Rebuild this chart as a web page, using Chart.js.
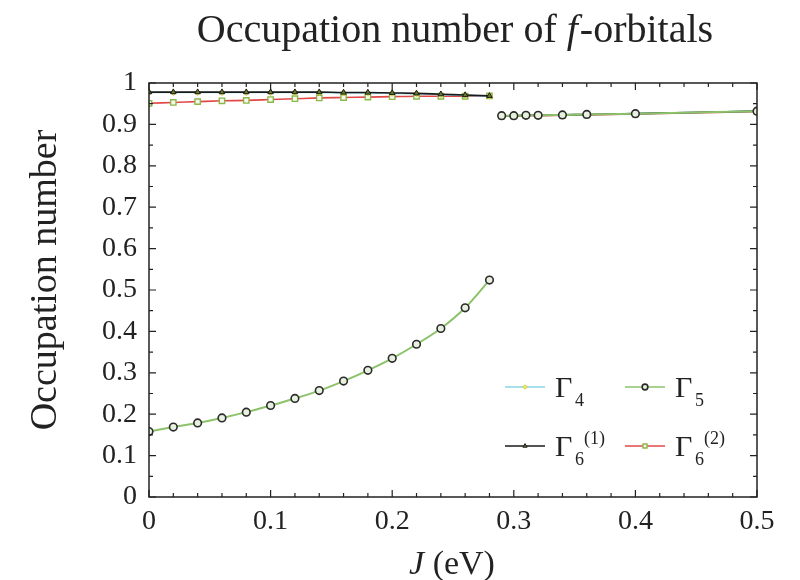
<!DOCTYPE html>
<html>
<head>
<meta charset="utf-8">
<script src="https://cdn.jsdelivr.net/npm/chart.js@4.4.1/dist/chart.umd.min.js"></script>
<style>
    html, body { margin: 0; padding: 0; background: #fff; }
    #wrap { width: 800px; height: 580px; }
</style>
</head>
<body>
<div id="wrap"><canvas id="occChart" width="800" height="580"></canvas></div>
<script>
// Occupation numbers of the f-orbitals versus Hund coupling J

// J values (eV); the null gap at 0.285 splits the low-J and high-J branches
const jValues = [0, 0.02, 0.04, 0.06, 0.08, 0.10, 0.12, 0.14, 0.16, 0.18, 0.20, 0.22, 0.24, 0.26, 0.28,
                 0.285, 0.29, 0.30, 0.31, 0.32, 0.34, 0.36, 0.40, 0.50];

const gamma4 = [0.977, 0.977, 0.977, 0.977, 0.977, 0.977, 0.977, 0.977, 0.976, 0.976, 0.975, 0.974, 0.972, 0.970, 0.968,
                null, 0.921, 0.921, 0.922, 0.922, 0.923, 0.924, 0.926, 0.932];
const gamma5 = [0.158, 0.169, 0.179, 0.191, 0.205, 0.221, 0.238, 0.257, 0.280, 0.306, 0.335, 0.369, 0.407, 0.457, 0.524,
                null, 0.921, 0.921, 0.922, 0.922, 0.923, 0.924, 0.926, 0.932];
const gamma6a = [0.978, 0.978, 0.978, 0.978, 0.978, 0.978, 0.978, 0.978, 0.977, 0.977, 0.976, 0.975, 0.973, 0.971, 0.969,
                 null, 0.921, 0.921, 0.922, 0.922, 0.923, 0.924, 0.926, 0.932];
const gamma6b = [0.951, 0.953, 0.955, 0.957, 0.958, 0.960, 0.962, 0.964, 0.965, 0.966, 0.967, 0.968, 0.968, 0.968, 0.969,
                 null, 0.920, 0.920, 0.921, 0.921, 0.922, 0.923, 0.925, 0.931];

const xTicks = [0, 0.1, 0.2, 0.3, 0.4, 0.5];
const yTicks = [0, 0.1, 0.2, 0.3, 0.4, 0.5, 0.6, 0.7, 0.8, 0.9, 1];

const SERIF = '"Liberation Serif", "DejaVu Serif", serif';

function toPoints(values) {
    return jValues.map((x, i) => ({ x: x, y: values[i] }));
}

// legend entries: subscript, superscript, dataset index, grid cell
const legendItems = [
    { sub: '4', sup: '', ds: 2, col: 0, row: 0 },
    { sub: '5', sup: '', ds: 0, col: 1, row: 0 },
    { sub: '6', sup: '(1)', ds: 1, col: 0, row: 1 },
    { sub: '6', sup: '(2)', ds: 3, col: 1, row: 1 }
];

// draw a run of text pieces, each with its own font, starting at x
function drawRuns(ctx, runs, x, y) {
    runs.forEach(r => {
        ctx.font = r.font;
        ctx.fillText(r.text, x, y);
        x += ctx.measureText(r.text).width + (r.gap || 0);
    });
}

function runsWidth(ctx, runs) {
    return runs.reduce((w, r) => {
        ctx.font = r.font;
        return w + ctx.measureText(r.text).width + (r.gap || 0);
    }, 0);
}

// frame, inward ticks on all four sides, titles and legend
const framePlugin = {
    id: 'frame',
    afterDraw(chart) {
        const ctx = chart.ctx;
        const a = chart.chartArea;
        const xs = chart.scales.x;
        const ys = chart.scales.y;
        ctx.save();
        ctx.strokeStyle = '#222';
        ctx.lineWidth = 1.5;
        ctx.strokeRect(a.left, a.top, a.right - a.left, a.bottom - a.top);

        ctx.lineWidth = 1.2;
        ctx.beginPath();
        for (let i = 0; i <= 25; i++) {
            const px = xs.getPixelForValue(i * 0.02);
            const len = (i % 5 === 0) ? 7 : 4;
            ctx.moveTo(px, a.bottom); ctx.lineTo(px, a.bottom - len);
            ctx.moveTo(px, a.top); ctx.lineTo(px, a.top + len);
        }
        for (let i = 0; i <= 20; i++) {
            const py = ys.getPixelForValue(i * 0.05);
            const len = (i % 2 === 0) ? 7 : 4;
            ctx.moveTo(a.left, py); ctx.lineTo(a.left + len, py);
            ctx.moveTo(a.right, py); ctx.lineTo(a.right - len, py);
        }
        ctx.stroke();

        ctx.fillStyle = '#222';
        ctx.textBaseline = 'alphabetic';
        ctx.textAlign = 'left';

        // title with italic f
        const titleRuns = [
            { text: 'Occupation number of ', font: '40px ' + SERIF },
            { text: 'f', font: 'italic 40px ' + SERIF, gap: 2 },
            { text: '-orbitals', font: '40px ' + SERIF }
        ];
        const tw = runsWidth(ctx, titleRuns);
        drawRuns(ctx, titleRuns, 455 - tw / 2, 42);

        // x axis title: J (eV)
        const xRuns = [
            { text: 'J', font: 'italic 34px ' + SERIF },
            { text: ' (eV)', font: '34px ' + SERIF }
        ];
        const xw = runsWidth(ctx, xRuns);
        drawRuns(ctx, xRuns, 452 - xw / 2, 574);

        // y axis title
        ctx.save();
        ctx.translate(56, 280);
        ctx.rotate(-Math.PI / 2);
        ctx.textAlign = 'center';
        ctx.font = '38px ' + SERIF;
        ctx.fillText('Occupation number', 0, 0);
        ctx.restore();

        // legend
        const colX = [505, 625];
        const rowY = [387, 446];
        legendItems.forEach(item => {
            const ds = chart.data.datasets[item.ds];
            const x0 = colX[item.col];
            const y0 = rowY[item.row];
            ctx.strokeStyle = ds.borderColor;
            ctx.lineWidth = 1.6;
            ctx.beginPath();
            ctx.moveTo(x0, y0); ctx.lineTo(x0 + 40, y0);
            ctx.stroke();
            ctx.fillStyle = ds.pointBackgroundColor;
            ctx.strokeStyle = ds.pointBorderColor;
            ctx.lineWidth = ds.pointBorderWidth;
            Chart.helpers.drawPoint(ctx, {
                pointStyle: ds.pointStyle,
                radius: ds.pointRadius * 0.75,
                rotation: 0,
                borderWidth: ds.pointBorderWidth
            }, x0 + 20, y0);
            ctx.fillStyle = '#222';
            ctx.textAlign = 'left';
            ctx.font = '30px ' + SERIF;
            ctx.fillText('\u0393', x0 + 50, y0 + 10);
            ctx.font = '18px ' + SERIF;
            ctx.fillText(item.sub, x0 + 70, y0 + 19);
            if (item.sup) {
                ctx.fillText(item.sup, x0 + 79, y0 - 2);
            }
        });
        ctx.restore();
    }
};

const ctx = document.getElementById('occChart').getContext('2d');

const occChart = new Chart(ctx, {
    type: 'line',
    data: {
        datasets: [
            {
                label: '\u03935',
                data: toPoints(gamma5),
                borderColor: '#8cc26a',
                borderWidth: 2,
                pointStyle: 'circle',
                pointRadius: 3.8,
                pointBorderWidth: 1.6,
                pointBorderColor: '#2b2b2b',
                pointBackgroundColor: '#e8f0e0',
                tension: 0.4,
                cubicInterpolationMode: 'monotone'
            },
            {
                label: '\u03936(1)',
                data: toPoints(gamma6a),
                borderColor: '#1a1a1a',
                borderWidth: 1.6,
                pointStyle: 'triangle',
                pointRadius: 3.2,
                pointBorderWidth: 1,
                pointBorderColor: '#1a1a1a',
                pointBackgroundColor: '#6a7a30',
                tension: 0.4,
                cubicInterpolationMode: 'monotone'
            },
            {
                label: '\u03934',
                data: toPoints(gamma4),
                borderColor: '#8ad6e6',
                borderWidth: 1.6,
                pointStyle: 'rectRot',
                pointRadius: 3,
                pointBorderWidth: 1,
                pointBorderColor: '#d8d040',
                pointBackgroundColor: '#f0e860',
                tension: 0.4,
                cubicInterpolationMode: 'monotone'
            },
            {
                label: '\u03936(2)',
                data: toPoints(gamma6b),
                borderColor: '#e04848',
                borderWidth: 1.6,
                pointStyle: 'rect',
                pointRadius: 3.8,
                pointBorderWidth: 1.4,
                pointBorderColor: '#8cb84a',
                pointBackgroundColor: '#f4f8ec',
                tension: 0.4,
                cubicInterpolationMode: 'monotone'
            }
        ]
    },
    options: {
        responsive: false,
        animation: false,
        spanGaps: false,
        layout: { padding: { left: 0, top: 83, right: 43, bottom: 0 } },
        plugins: {
            legend: { display: false },
            tooltip: { enabled: false },
            title: { display: false }
        },
        scales: {
            x: {
                type: 'linear',
                min: 0,
                max: 0.5,
                afterFit(scale) { scale.height = 83; },
                afterBuildTicks(scale) { scale.ticks = xTicks.map(v => ({ value: v })); },
                grid: { display: false, drawTicks: false },
                border: { display: false },
                ticks: {
                    padding: 8,
                    color: '#222',
                    font: { family: SERIF, size: 28 },
                    maxRotation: 0,
                    autoSkip: false,
                    callback: v => String(Math.round(v * 10) / 10)
                }
            },
            y: {
                type: 'linear',
                min: 0,
                max: 1,
                afterFit(scale) { scale.width = 149; },
                afterBuildTicks(scale) { scale.ticks = yTicks.map(v => ({ value: v })); },
                grid: { display: false, drawTicks: false },
                border: { display: false },
                ticks: {
                    padding: 12,
                    color: '#222',
                    font: { family: SERIF, size: 28 },
                    autoSkip: false,
                    callback: v => String(Math.round(v * 10) / 10)
                }
            }
        }
    },
    plugins: [framePlugin]
});
</script>
</body>
</html>
